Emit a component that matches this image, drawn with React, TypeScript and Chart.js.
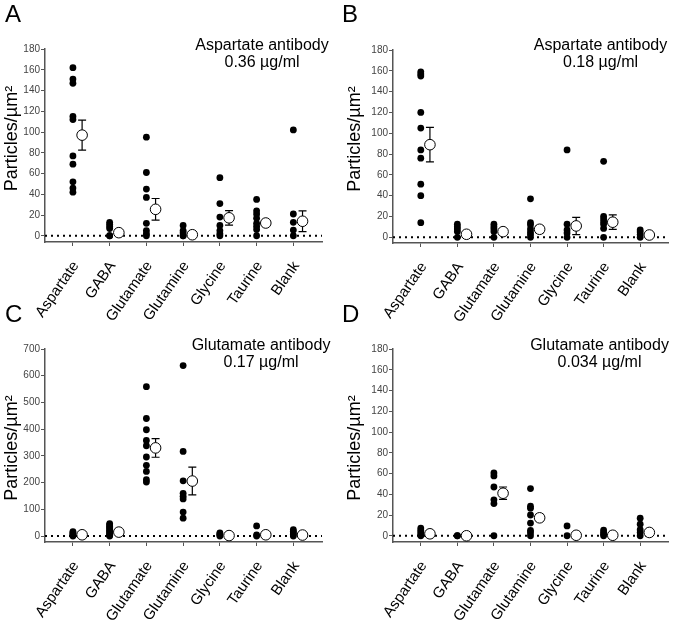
import React, { useEffect, useRef } from "react";
import { Chart, registerables } from "chart.js";

Chart.register(...registerables);

// ---------- data ----------
const categories = ["Aspartate", "GABA", "Glutamate", "Glutamine", "Glycine", "Taurine", "Blank"];

const ticks180 = [0, 20, 40, 60, 80, 100, 120, 140, 160, 180];
const ticks700 = [0, 100, 200, 300, 400, 500, 600, 700];

// Panel A: Aspartate antibody 0.36 µg/ml
const aPoints = [
  [162, 151, 147, 115, 112, 77, 69, 52, 46, 42],
  [13, 11, 9, 7, 0, 0],
  [95, 61, 45, 37, 12, 5, 2, 0],
  [10, 5, 3, 0, 0],
  [56, 31, 18, 10, 5, 2, 0],
  [35, 24, 21, 17, 12, 9, 6, 0],
  [102, 21, 13, 5.5, 0],
];
const aMeans = [97, 3, 25.5, 1, 17.3, 12.3, 14];
const aSems = [14.5, 1.2, 10.4, 0.8, 7, 2, 10];

// Panel B: Aspartate antibody 0.18 µg/ml
const bPoints = [
  [159, 157, 155, 120, 105, 84, 76, 51, 40, 14],
  [12.5, 10, 8, 5.5, 0],
  [12.5, 10, 8, 5.5, 0],
  [37, 14, 12, 8, 5, 2.6, 0],
  [84, 12.5, 7, 4, 0],
  [73, 20, 17.5, 15, 12.5, 8.5, 0],
  [7, 5, 2.6, 0],
];
const bMeans = [89, 2.9, 5.4, 7.7, 10.9, 14.5, 2.2];
const bSems = [16.6, 1.3, 1.5, 3.5, 8.3, 7, 0.8];

// Panel C: Glutamate antibody 0.17 µg/ml
const cPoints = [
  [17, 12, 8, 4, 0],
  [47, 42, 37, 32, 27, 22, 17, 12, 7, 3, 0],
  [559, 440, 398, 358, 338, 296, 265, 242, 211, 202],
  [638, 317, 207, 160, 149, 139, 90, 67],
  [12, 8, 4, 0],
  [38, 5, 0],
  [24, 18, 12, 6, 0],
];
const cMeans = [5, 15, 330, 206, 2, 5, 4];
const cSems = [2, 5, 35, 52, 1, 3, 2.5];

// Panel D: Glutamate antibody 0.034 µg/ml
const dPoints = [
  [7.4, 5.4, 3.5, 1.3, 0],
  [0, 0],
  [60.5, 57.7, 47, 34.6, 31, 0],
  [45.5, 28.5, 26.6, 20, 12.2, 5.1, 2.9, 0],
  [9.5, 0],
  [5.5, 3.5, 1.5, 0],
  [17, 11.2, 5.8, 3.2, 0],
];
const dMeans = [1.9, 0, 41, 17.3, 0.5, 0.5, 3.2];
const dSems = [0.7, 0, 6, 3.3, 0.5, 0.4, 1.5];

// ---------- layout ----------
const X_MIN = -0.76;
const X_MAX = 6.78;
const MEAN_OFFSET = 0.25;
const FONT = "'Liberation Sans', Arial, Helvetica, sans-serif";
const AXIS_COLOR = "#555";

type PanelSpec = {
  letter: string;
  left: number;
  top: number;
  width: number;
  height: number;
  area: { l: number; t: number; r: number; b: number };
  yMin: number;
  yMax: number;
  yTicks: number[];
  points: number[][];
  means: number[];
  sems: number[];
  line1: string;
  line2: string;
  textX: number;
  titleX: number;
  titleY: number;
};

const panels: PanelSpec[] = [
  {
    letter: "A", left: 0, top: 0, width: 337, height: 322,
    area: { l: 45, t: 49, r: 322, b: 242 },
    yMin: -6, yMax: 180, yTicks: ticks180,
    points: aPoints, means: aMeans, sems: aSems,
    line1: "Aspartate antibody", line2: "0.36 µg/ml",
    textX: 262, titleX: 16.5, titleY: 138.5,
  },
  {
    letter: "B", left: 337, top: 0, width: 338, height: 322,
    area: { l: 56, t: 50, r: 333, b: 243 },
    yMin: -5.5, yMax: 180, yTicks: ticks180,
    points: bPoints, means: bMeans, sems: bSems,
    line1: "Aspartate antibody", line2: "0.18 µg/ml",
    textX: 263.5, titleX: 23.3, titleY: 139,
  },
  {
    letter: "C", left: 0, top: 300, width: 337, height: 321,
    area: { l: 45, t: 49, r: 322, b: 242 },
    yMin: -22, yMax: 700, yTicks: ticks700,
    points: cPoints, means: cMeans, sems: cSems,
    line1: "Glutamate antibody", line2: "0.17 µg/ml",
    textX: 261, titleX: 16.5, titleY: 148,
  },
  {
    letter: "D", left: 337, top: 300, width: 338, height: 321,
    area: { l: 56, t: 49, r: 333, b: 242 },
    yMin: -6, yMax: 180, yTicks: ticks180,
    points: dPoints, means: dMeans, sems: dSems,
    line1: "Glutamate antibody", line2: "0.034 µg/ml",
    textX: 262.5, titleX: 23.3, titleY: 148,
  },
];

function Panel({ spec }: { spec: PanelSpec }) {
  const ref = useRef<HTMLCanvasElement | null>(null);

  useEffect(() => {
    const canvas = ref.current;
    if (!canvas) return;

    const dotData = spec.points.flatMap((vals, i) => vals.map((v) => ({ x: i, y: v })));
    const meanData = spec.means.map((m, i) => ({ x: i + MEAN_OFFSET, y: m }));

    const errorBars = {
      id: "errorBars",
      beforeDatasetDraw(chart: any, args: any) {
        if (args.index !== 2) return;
        const ctx = chart.ctx;
        const xs = chart.scales.x;
        const ys = chart.scales.y;
        ctx.save();
        ctx.strokeStyle = "#000";
        ctx.lineWidth = 1.2;
        spec.means.forEach((m, i) => {
          const s = spec.sems[i];
          if (!s) return;
          const px = xs.getPixelForValue(i + MEAN_OFFSET);
          const pTop = ys.getPixelForValue(m + s);
          const pBot = ys.getPixelForValue(m - s);
          ctx.beginPath();
          ctx.moveTo(px, pTop);
          ctx.lineTo(px, pBot);
          ctx.moveTo(px - 4, pTop);
          ctx.lineTo(px + 4, pTop);
          ctx.moveTo(px - 4, pBot);
          ctx.lineTo(px + 4, pBot);
          ctx.stroke();
        });
        ctx.restore();
      },
    };

    const labels = {
      id: "panelText",
      afterDraw(chart: any) {
        const ctx = chart.ctx;
        ctx.save();
        ctx.fillStyle = "#000";
        ctx.textBaseline = "alphabetic";
        ctx.font = `24px ${FONT}`;
        ctx.textAlign = "left";
        ctx.fillText(spec.letter, 5, 22);
        ctx.font = `16px ${FONT}`;
        ctx.textAlign = "center";
        ctx.fillText(spec.line1, spec.textX, 50);
        ctx.fillText(spec.line2, spec.textX, 67);
        ctx.font = `18px ${FONT}`;
        ctx.translate(spec.titleX, spec.titleY);
        ctx.rotate(-Math.PI / 2);
        ctx.textAlign = "center";
        ctx.fillText("Particles/µm²", 0, 0);
        ctx.restore();
      },
    };

    const chart = new Chart(canvas, {
      type: "scatter",
      data: {
        datasets: [
          {
            type: "line",
            data: [
              { x: X_MIN, y: 0 },
              { x: X_MAX, y: 0 },
            ],
            borderColor: "#000",
            borderWidth: 2,
            borderDash: [2, 4],
            pointRadius: 0,
            clip: false,
            order: 3,
          } as any,
          {
            data: dotData,
            pointRadius: 3.4,
            pointHoverRadius: 3.4,
            backgroundColor: "#000",
            borderColor: "#000",
            borderWidth: 0,
            clip: false,
            order: 2,
          },
          {
            data: meanData,
            pointRadius: 5.3,
            pointHoverRadius: 5.3,
            backgroundColor: "#fff",
            borderColor: "#000",
            borderWidth: 1,
            clip: false,
            order: 1,
          },
        ],
      },
      options: {
        animation: false,
        responsive: false,
        devicePixelRatio: 1,
        events: [],
        layout: {
          padding: {
            left: 0,
            top: spec.area.t,
            right: spec.width - spec.area.r,
            bottom: 0,
          },
        },
        plugins: {
          legend: { display: false },
          tooltip: { enabled: false },
          title: { display: false },
        },
        scales: {
          x: {
            type: "linear",
            position: "bottom",
            min: X_MIN,
            max: X_MAX,
            afterBuildTicks: (scale: any) => {
              scale.ticks = categories.map((_, i) => ({ value: i }));
            },
            afterFit: (scale: any) => {
              scale.height = spec.height - spec.area.b;
            },
            ticks: {
              autoSkip: false,
              minRotation: 55,
              maxRotation: 55,
              padding: 12,
              labelOffset: 3,
              color: "#000",
              font: { family: FONT, size: 15 },
              callback: (_v: any, i: number) => categories[i],
            },
            grid: {
              drawOnChartArea: false,
              drawTicks: true,
              tickLength: 4,
              color: AXIS_COLOR,
              lineWidth: 1,
            },
            border: { display: true, color: AXIS_COLOR, width: 1.5 },
          },
          y: {
            type: "linear",
            min: spec.yMin,
            max: spec.yMax,
            afterBuildTicks: (scale: any) => {
              scale.ticks = spec.yTicks.map((v) => ({ value: v }));
            },
            afterFit: (scale: any) => {
              scale.width = spec.area.l;
            },
            ticks: {
              padding: 1,
              color: "#444",
              font: { family: FONT, size: 10 },
            },
            grid: {
              drawOnChartArea: false,
              drawTicks: true,
              tickLength: 4,
              color: AXIS_COLOR,
              lineWidth: 1,
            },
            border: { display: true, color: AXIS_COLOR, width: 1.5 },
          },
        },
      } as any,
      plugins: [errorBars, labels],
    });

    return () => chart.destroy();
  }, [spec]);

  return (
    <canvas
      ref={ref}
      width={spec.width}
      height={spec.height}
      style={{
        position: "absolute",
        left: spec.left,
        top: spec.top,
        width: spec.width,
        height: spec.height,
        display: "block",
      }}
    />
  );
}

export default function App() {
  useEffect(() => {
    document.body.style.margin = "0";
    document.body.style.background = "#fff";
  }, []);
  return (
    <div style={{ position: "relative", width: 675, height: 621, background: "#fff", overflow: "hidden" }}>
      {panels.map((p) => (
        <Panel key={p.letter} spec={p} />
      ))}
    </div>
  );
}
